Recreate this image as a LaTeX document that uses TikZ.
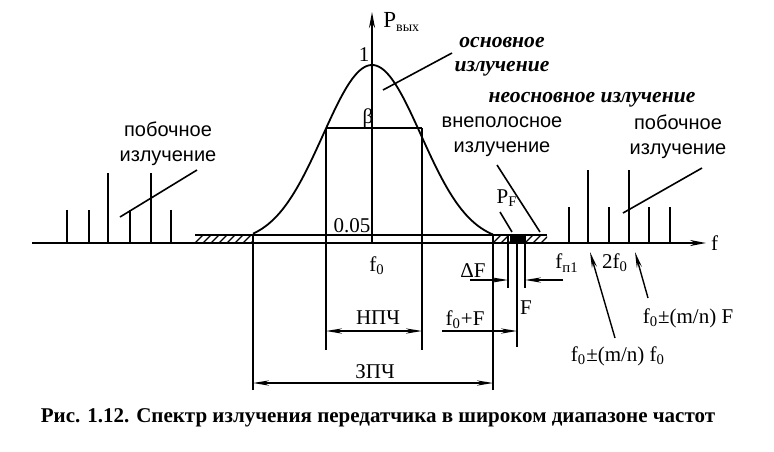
\documentclass[tikz,border=0pt]{standalone}
\usepackage{fontspec}
\setmainfont{Liberation Serif}
\setsansfont{Liberation Sans}
\usepackage{tikz}
\usetikzlibrary{calc,arrows.meta,positioning}
\newcommand{\fzero}{f\textsubscript{0}}
\tikzset{
    every node/.style={font=\rmfamily\fontsize{10.5}{12}\selectfont, inner sep=1pt},
    word/.style={font=\sffamily\fontsize{10}{12.5}\selectfont, align=center},
    main word/.style={font=\rmfamily\bfseries\itshape\fontsize{10.8}{12}\selectfont, align=center},
    axis/.style={line width=1pt, -{Stealth[length=8pt,width=3pt]}},
    dim/.style={line width=0.7pt, -{Stealth[length=8pt,width=2.6pt]}},
    spur/.style={line width=1.1pt},
    lead/.style={line width=0.8pt}
}

\begin{document}
\begin{tikzpicture}[x=0.5pt, y=-0.5pt]
    \useasboundingbox (0,0) rectangle (774,451);

    % axes
    \draw[axis] (32,243) -- (706,243) node[right=1pt] (f) {f};
    \draw[axis] (372,243) -- (372,12);
    \node[anchor=west] (Pout) at (381,22) {\fontsize{11.5}{12}\selectfont P\textsubscript{\scriptsize вых}};

    % levels 0.05 and beta
    \draw[line width=1pt] (195,235) -- (547,235);
    \draw[line width=0.9pt] (326,128) -- (422,128);
    \node (one) at (364,55) {1};
    \node (beta) at (368,118) {β};
    \node (low) at (352,226) {0.05};
    \node (f0) at (377,266) {\fzero};

    % main lobe
    \draw[line width=0.9pt] plot[domain=253:493, samples=100, smooth]
        (\x, {243-178*exp(-((\x-372)*(\x-372))/4802)});

    % hatched out-of-band parts
    \begin{scope}
        \clip (195,235) rectangle (253,243);
        \foreach \x in {187,195,...,261} \draw[line width=0.6pt] (\x,243) -- ++(8,-8);
    \end{scope}
    \begin{scope}
        \clip (493,235) rectangle (547,243);
        \foreach \x in {485,493,...,555} \draw[line width=0.6pt] (\x,243) -- ++(8,-8);
    \end{scope}
    \fill (510,235) rectangle (525,243);

    % spurious lines
    \foreach \x/\h in {67/210,89/210,108/173,130/210,151/173,171/210} \draw[spur] (\x,243) -- (\x,\h);
    \foreach \x/\h in {569/207,588/170,609/207,629/170,649/207,670/207} \draw[spur] (\x,243) -- (\x,\h);

    % extension lines
    \draw[lead] (326,128) -- (326,350);
    \draw[lead] (422,128) -- (422,350);
    \draw[lead] (253,235) -- (253,390);
    \draw[lead] (493,235) -- (493,390);
    \draw[lead] (508,235) -- (508,288);
    \draw[lead] (517,235) -- (517,347);
    \draw[lead] (525,235) -- (525,288);

    % dimensions
    \coordinate (nl) at (326,331);  \coordinate (nr) at (422,331);
    \coordinate (zl) at (253,383);  \coordinate (zr) at (493,383);
    \coordinate (ff) at (442,331);  \coordinate (fe) at (517,331);
    \coordinate (dl) at (470,280);  \coordinate (dle) at (508,280);
    \coordinate (dr) at (563,280);  \coordinate (dre) at (525,280);
    \draw[dim, {Stealth[length=8pt,width=2.6pt]}-{Stealth[length=8pt,width=2.6pt]}] (nl) -- (nr);
    \draw[dim, {Stealth[length=8pt,width=2.6pt]}-{Stealth[length=8pt,width=2.6pt]}] (zl) -- (zr);
    \draw[dim] (ff) -- (fe);
    \draw[dim] (dl) -- (dle);
    \draw[dim] (dr) -- (dre);
    \node (npch) at (378,318) {НПЧ};
    \node (zpch) at (375,372) {ЗПЧ};
    \node (f0F) at (465,320) {\fzero+F};
    \node (dF) at (473,271) {ΔF};
    \node (F) at (526,308) {F};
    \node (fp1) at (567,263) {f\textsubscript{п1}};
    \node (twof0) at (615,263) {2\fzero};

    % harmonic pointers
    \node (mnf0) at (618,356) {\fzero±(m/n) \fzero};
    \node (mnF) at (688,318) {\fzero±(m/n) F};
    \coordinate (a1) at (615,338);  \coordinate (a1e) at (590,252);
    \coordinate (a2) at (648,298);  \coordinate (a2e) at (635,252);
    \draw[dim] (a1) -- (a1e);
    \draw[dim] (a2) -- (a2e);

    % labels with leaders
    \node[main word] (main) at (502,57) {основное\\излучение};
    \node[main word] (notmain) at (592,100) {неосновное излучение};
    \node[word] (oob) at (502,137) {внеполосное\\излучение};
    \node[word] (spurL) at (168,144) {побочное\\излучение};
    \node[word] (spurR) at (678,137) {побочное\\излучение};
    \node (PF) at (507,198) {P\textsubscript{F}};

    \coordinate (m1) at (383,90);   \coordinate (m2) at (452,53);
    \coordinate (o1) at (497,165);  \coordinate (o2) at (540,232);
    \coordinate (p1) at (500,212);  \coordinate (p2) at (512,232);
    \coordinate (sl1) at (120,217); \coordinate (sl2) at (197,170);
    \coordinate (sr1) at (623,213); \coordinate (sr2) at (702,168);
    \draw[lead] (m1) -- (m2);
    \draw[lead] (o1) -- (o2);
    \draw[lead] (p1) -- (p2);
    \draw[lead] (sl1) -- (sl2);
    \draw[lead] (sr1) -- (sr2);

    % caption
    \node[font=\rmfamily\bfseries\fontsize{10.5}{12}\selectfont] (cap) at (378,418)
        {Рис. 1.12. Спектр излучения передатчика в широком диапазоне частот};

\end{tikzpicture}
\end{document}
